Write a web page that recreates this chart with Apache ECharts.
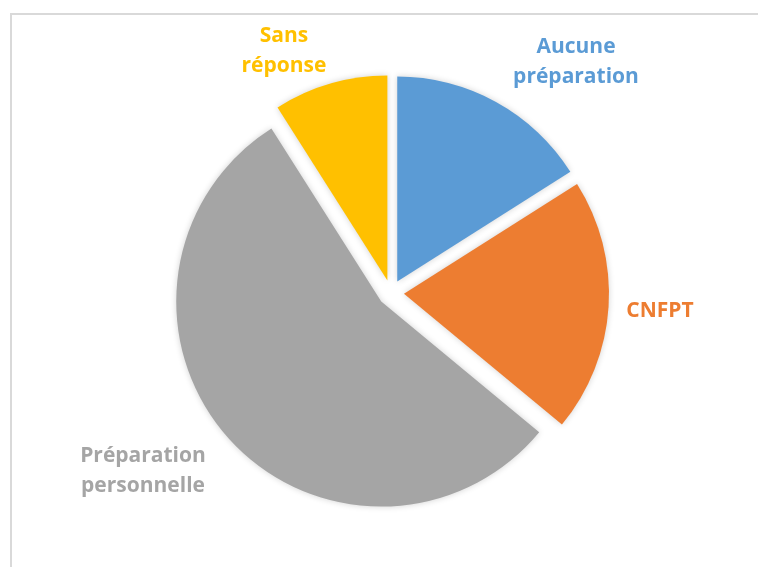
<!DOCTYPE html>
<html>
<head>
<meta charset="utf-8">
<script src="https://cdn.jsdelivr.net/npm/echarts@6/dist/echarts.min.js"></script>
<style>
  html, body { margin: 0; padding: 0; background: #fff; }
  #chart { width: 758px; height: 567px; }
</style>
</head>
<body>
<div id="chart"></div>
<script>
// valeurs (en %)
var categories = ['Aucune préparation', 'CNFPT', 'Préparation personnelle', 'Sans réponse'];
var labelTexts = ['Aucune\npréparation', 'CNFPT', 'Préparation\npersonnelle', 'Sans\nréponse'];
var values = [16, 20, 55, 9];

var colors = ['#5B9BD5', '#ED7D31', '#A5A5A5', '#FFC000'];

var chart = echarts.init(document.getElementById('chart'));

// centre des étiquettes (layout)
var labelAnchors = [[576, 62], [660, 311], [143, 471], [284, 51]];

var graphics = [{
	type: 'rect',
	shape: { x: 11, y: 14, width: 800, height: 600 },
	style: { fill: 'none', stroke: '#d9d9d9', lineWidth: 2 },
	silent: true
}];
labelTexts.forEach(function (txt, i) {
	graphics.push({
		type: 'text',
		x: labelAnchors[i][0],
		y: labelAnchors[i][1],
		z: 10,
		silent: true,
		style: {
			text: txt,
			fill: colors[i],
			font: 'bold 21px "Open Sans"',
			lineHeight: 30,
			textAlign: 'center',
			textVerticalAlign: 'middle'
		}
	});
});

chart.setOption({
	animation: false,
	graphic: graphics,
	series: [{
		type: 'pie',
		center: [391, 293],
		radius: 205,
		startAngle: 90,
		clockwise: true,
		selectedMode: 'multiple',
		selectedOffset: 13,
		emphasis: { disabled: true },
		itemStyle: {
			shadowBlur: 6,
			shadowColor: 'rgba(0,0,0,0.18)'
		},
		label: { show: false },
		labelLine: { show: false },
		data: categories.map(function (name, i) {
			return {
				name: name,
				value: values[i],
				selected: true,
				itemStyle: { color: colors[i] }
			};
		})
	}]
});
</script>
</body>
</html>
